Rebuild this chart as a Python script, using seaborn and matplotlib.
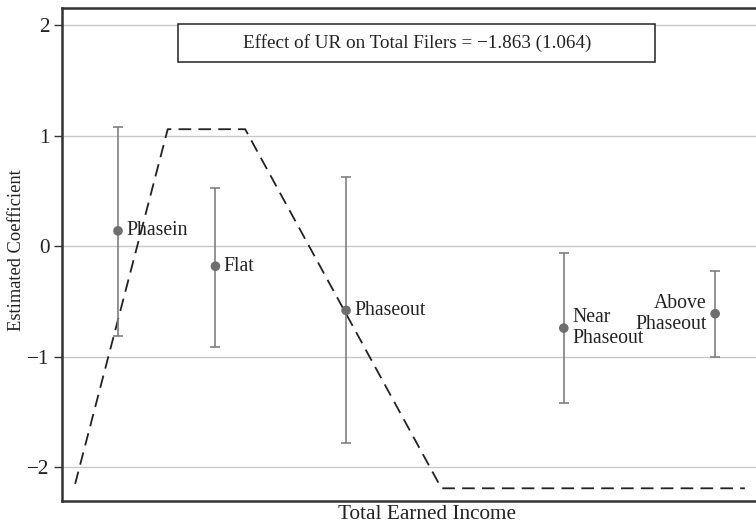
import matplotlib
matplotlib.use("Agg")
import matplotlib.pyplot as plt
from matplotlib.patches import Rectangle
import seaborn as sns
import pandas as pd

# Income-bin estimates (position on the income axis, coefficient, 95% CI)
bins = ["Phasein", "Flat", "Phaseout", "Near\nPhaseout", "Above\nPhaseout"]
bin_x = [8.1, 22.2, 41.1, 72.6, 94.5]
coef = [0.14, -0.18, -0.58, -0.74, -0.61]
ci_low = [-0.81, -0.91, -1.78, -1.42, -1.00]
ci_high = [1.08, 0.53, 0.63, -0.06, -0.22]

# Stylised credit schedule drawn behind the estimates
sched_x = [1.9, 15.3, 26.5, 54.9, 98.8]
sched_y = [-2.15, 1.06, 1.06, -2.19, -2.19]

yticks = [-2, -1, 0, 1, 2]
effect_text = "Effect of UR on Total Filers = \u22121.863 (1.064)"

sns.set_theme(style="white")
plt.rcParams["font.family"] = ["Liberation Serif", "DejaVu Serif"]

FS = 14.2
INK = "#222222"

W, H = 756, 527
L, R, T, B = 62, 756, 8, 501
fig = plt.figure(figsize=(W / 100, H / 100), dpi=100)
ax = fig.add_axes([L / W, 1 - B / H, 1 - L / W + 0.01, (B - T) / H])
aw, ah = R - L, B - T

ax.set_xlim(0, 101.5)
ax.set_ylim(-2.305, 2.157)

for yv in yticks:
    ax.axhline(yv, color="#c8c8c8", lw=1.0, zorder=0)

df_sched = pd.DataFrame({"x": sched_x, "y": sched_y})
sns.lineplot(data=df_sched, x="x", y="y", ax=ax, color=INK, lw=1.3,
             sort=False, zorder=2)
ax.lines[-1].set_dashes([7, 4])

gray = "#7f7f7f"
yerr = [[c - lo for c, lo in zip(coef, ci_low)], [hi - c for c, hi in zip(coef, ci_high)]]
ax.errorbar(bin_x, coef, yerr=yerr, fmt="none", ecolor=gray, elinewidth=1.2,
            capsize=3.7, capthick=1.2, zorder=3)

df_pts = pd.DataFrame({"x": bin_x, "y": coef, "bin": bins})
sns.scatterplot(data=df_pts, x="x", y="y", ax=ax, color="#6e6e6e", s=48,
                edgecolor="none", zorder=4)

for i, (name, xv, yv) in enumerate(zip(bins, bin_x, coef)):
    if i == len(bins) - 1:
        ax.annotate(name, (xv, yv), xytext=(-6, 0), textcoords="offset points",
                    ha="right", va="center", fontsize=FS, multialignment="right",
                    linespacing=1.15, color=INK)
    else:
        ax.annotate(name, (xv, yv), xytext=(6, 0), textcoords="offset points",
                    ha="left", va="center", fontsize=FS, multialignment="left",
                    linespacing=1.15, color=INK)

# Summary box at the top of the panel
box_l, box_r, box_t, box_b = 177, 649, 24, 62
ax.add_patch(Rectangle(((box_l - L) / aw, (B - box_b) / ah),
                       (box_r - box_l) / aw, (box_b - box_t) / ah,
                       transform=ax.transAxes, fc="white", ec=INK, lw=1.1, zorder=5))
ax.text((0.5 * (box_l + box_r) - L) / aw, (B - 0.5 * (box_t + box_b)) / ah,
        effect_text, ha="center", va="center", fontsize=13.8, color=INK,
        transform=ax.transAxes, zorder=6)

ax.set_yticks(yticks)
ax.set_yticklabels(["\u22122", "\u22121", "0", "1", "2"])
ax.set_xticks([])
ax.tick_params(axis="y", which="major", length=6, width=1.0, color="#333333",
               labelsize=FS + 1, pad=3, left=True, labelcolor=INK)

for side in ["left", "bottom", "top"]:
    ax.spines[side].set_visible(True)
    ax.spines[side].set_color("#333333")
    ax.spines[side].set_linewidth(1.8)
ax.spines["right"].set_visible(False)

ax.set_xlabel("Total Earned Income", fontsize=15.3, color=INK)
ax.set_ylabel("Estimated Coefficient", fontsize=13.3, color=INK)
ax.xaxis.set_label_coords((423 - L) / aw, -(505 - B) / ah, transform=ax.transAxes)
ax.yaxis.set_label_coords(-(L - 25) / aw, (B - 250) / ah, transform=ax.transAxes)

fig.savefig("out.png", dpi=100)
